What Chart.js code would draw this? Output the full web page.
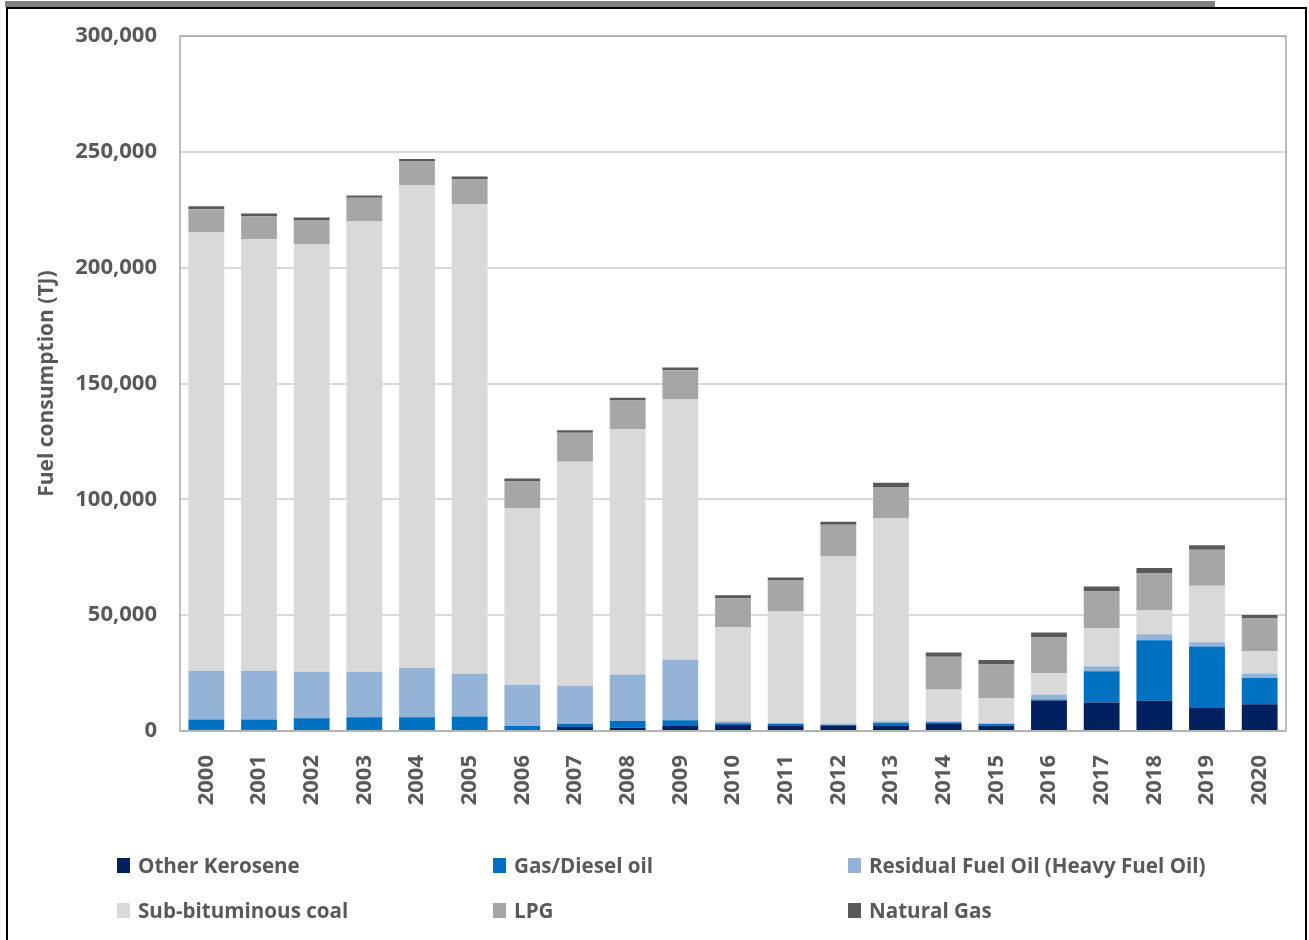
<!DOCTYPE html>
<html lang="en">
<head>
  <meta charset="UTF-8">
  <title>Fuel consumption (TJ)</title>
  <script src="https://cdn.jsdelivr.net/npm/chart.js"></script>
  <style>
    body {
      margin: 0;
      background: #fff;
      font-family: 'Open Sans', sans-serif;
    }

    .topbar {
      position: absolute;
      left: 5px;
      top: 1px;
      width: 1210px;
      height: 6px;
      background: #7f7f7f;
    }

    .frame {
      position: absolute;
      left: 6px;
      top: 7px;
      width: 1297px;
      height: 940px;
      border: 2px solid #000;
      border-bottom: none;
    }

    .chart-box {
      position: absolute;
      left: 0;
      top: 0;
      width: 1309px;
      height: 940px;
    }

    .legend .item {
      position: absolute;
      display: flex;
      align-items: center;
      gap: 8px;
      height: 28px;
      font-size: 20.6px;
      font-weight: bold;
      color: #595959;
      white-space: nowrap;
    }

    .legend .box {
      display: inline-block;
      width: 13px;
      height: 15px;
    }
  </style>
</head>
<body>

  <div class="topbar"></div>
  <div class="frame"></div>
  <div class="chart-box">
    <canvas id="fuelChart"></canvas>
  </div>
  <div class="legend" id="legend"></div>

  <script>
    const years = ['2000', '2001', '2002', '2003', '2004', '2005', '2006', '2007', '2008', '2009', '2010',
                   '2011', '2012', '2013', '2014', '2015', '2016', '2017', '2018', '2019', '2020'];

    const otherKerosene = [700, 700, 0, 0, 0, 0, 0, 1700, 1450, 2150, 2600,
                           2150, 2150, 2150, 3000, 2300, 13200, 12350, 13100, 9900, 11500];
    const gasDiesel = [4300, 4300, 5500, 5900, 5900, 6300, 2150, 1300, 2850, 2450, 730,
                       860, 400, 1450, 730, 700, 430, 13500, 26100, 26600, 11350];
    const residualFuelOil = [21000, 21000, 20100, 19700, 21250, 18400, 17850, 16550, 20100, 26300, 860,
                             400, 700, 560, 430, 300, 2150, 2150, 2600, 1850, 2000];
    const subBituminousCoal = [189500, 186300, 184700, 194400, 208600, 202600, 76300, 96700, 106000, 112400, 40650,
                               48400, 72300, 87600, 13800, 10900, 9200, 16400, 10200, 24400, 9600];
    const lpg = [9800, 10000, 10100, 10200, 10100, 10800, 11450, 12500, 12350, 12500, 12500,
                 13200, 13500, 13550, 14100, 14500, 15400, 15800, 16250, 15500, 14350];
    const naturalGas = [1300, 1150, 1300, 1030, 1100, 1300, 1300, 1150, 1100, 1100, 1300,
                        1300, 1300, 1850, 1850, 2000, 2150, 2150, 2150, 2000, 1300];

    const seriesNames = ['Other Kerosene', 'Gas/Diesel oil', 'Residual Fuel Oil (Heavy Fuel Oil)',
                         'Sub-bituminous coal', 'LPG', 'Natural Gas'];
    const seriesData = [otherKerosene, gasDiesel, residualFuelOil, subBituminousCoal, lpg, naturalGas];
    const seriesColors = ['#002060', '#0070c0', '#95b3d7', '#d9d9d9', '#a6a6a6', '#595959'];

    const yTicks = [0, 50000, 100000, 150000, 200000, 250000, 300000];

    // legend columns / rows (Excel style, 3 x 2 grid)
    const legendX = [117, 493, 848];
    const legendY = [851, 896];

    const legendEl = document.getElementById('legend');
    seriesNames.forEach((name, i) => {
      const col = i % 3;
      const row = Math.floor(i / 3);
      legendEl.insertAdjacentHTML('beforeend', `
        <div class="item" style="left:${legendX[col]}px;top:${legendY[row]}px">
          <span class="box" style="background:${seriesColors[i]}"></span>${name}
        </div>`);
    });

    // grey border round the plot area
    const plotFrame = {
      id: 'plotFrame',
      beforeDatasetsDraw(chart) {
        const { ctx, chartArea: a } = chart;
        ctx.save();
        ctx.strokeStyle = '#a6a6a6';
        ctx.lineWidth = 1.5;
        ctx.strokeRect(a.left, a.top, a.right - a.left, a.bottom - a.top);
        ctx.restore();
      }
    };

    const tickFont = { family: 'Open Sans', size: 22, weight: 'bold' };

    new Chart(document.getElementById('fuelChart'), {
      type: 'bar',
      data: {
        labels: years,
        datasets: seriesNames.map((name, i) => ({
          label: name,
          data: seriesData[i],
          backgroundColor: seriesColors[i],
          borderWidth: 0,
          barPercentage: 0.68,
          categoryPercentage: 1
        }))
      },
      options: {
        responsive: true,
        maintainAspectRatio: false,
        animation: false,
        layout: { padding: { left: 30, top: 35, right: 23, bottom: 0 } },
        plugins: {
          legend: { display: false },
          tooltip: { enabled: false }
        },
        scales: {
          x: {
            stacked: true,
            grid: { display: false },
            border: { display: false },
            ticks: {
              minRotation: 90,
              maxRotation: 90,
              padding: 16,
              color: '#595959',
              font: tickFont
            },
            afterFit(scale) { scale.height = 209; }
          },
          y: {
            stacked: true,
            min: 0,
            max: 300000,
            afterBuildTicks(scale) { scale.ticks = yTicks.map(v => ({ value: v })); },
            ticks: {
              padding: 23,
              color: '#595959',
              font: tickFont,
              callback: v => v.toLocaleString('en-US')
            },
            grid: { color: '#d9d9d9', lineWidth: 2, drawTicks: false },
            border: { display: false },
            title: {
              display: true,
              text: 'Fuel consumption (TJ)',
              color: '#595959',
              font: { family: 'Open Sans', size: 21, weight: 'bold' }
            },
            afterFit(scale) { scale.width = 150; }
          }
        }
      },
      plugins: [plotFrame]
    });
  </script>

</body>
</html>
